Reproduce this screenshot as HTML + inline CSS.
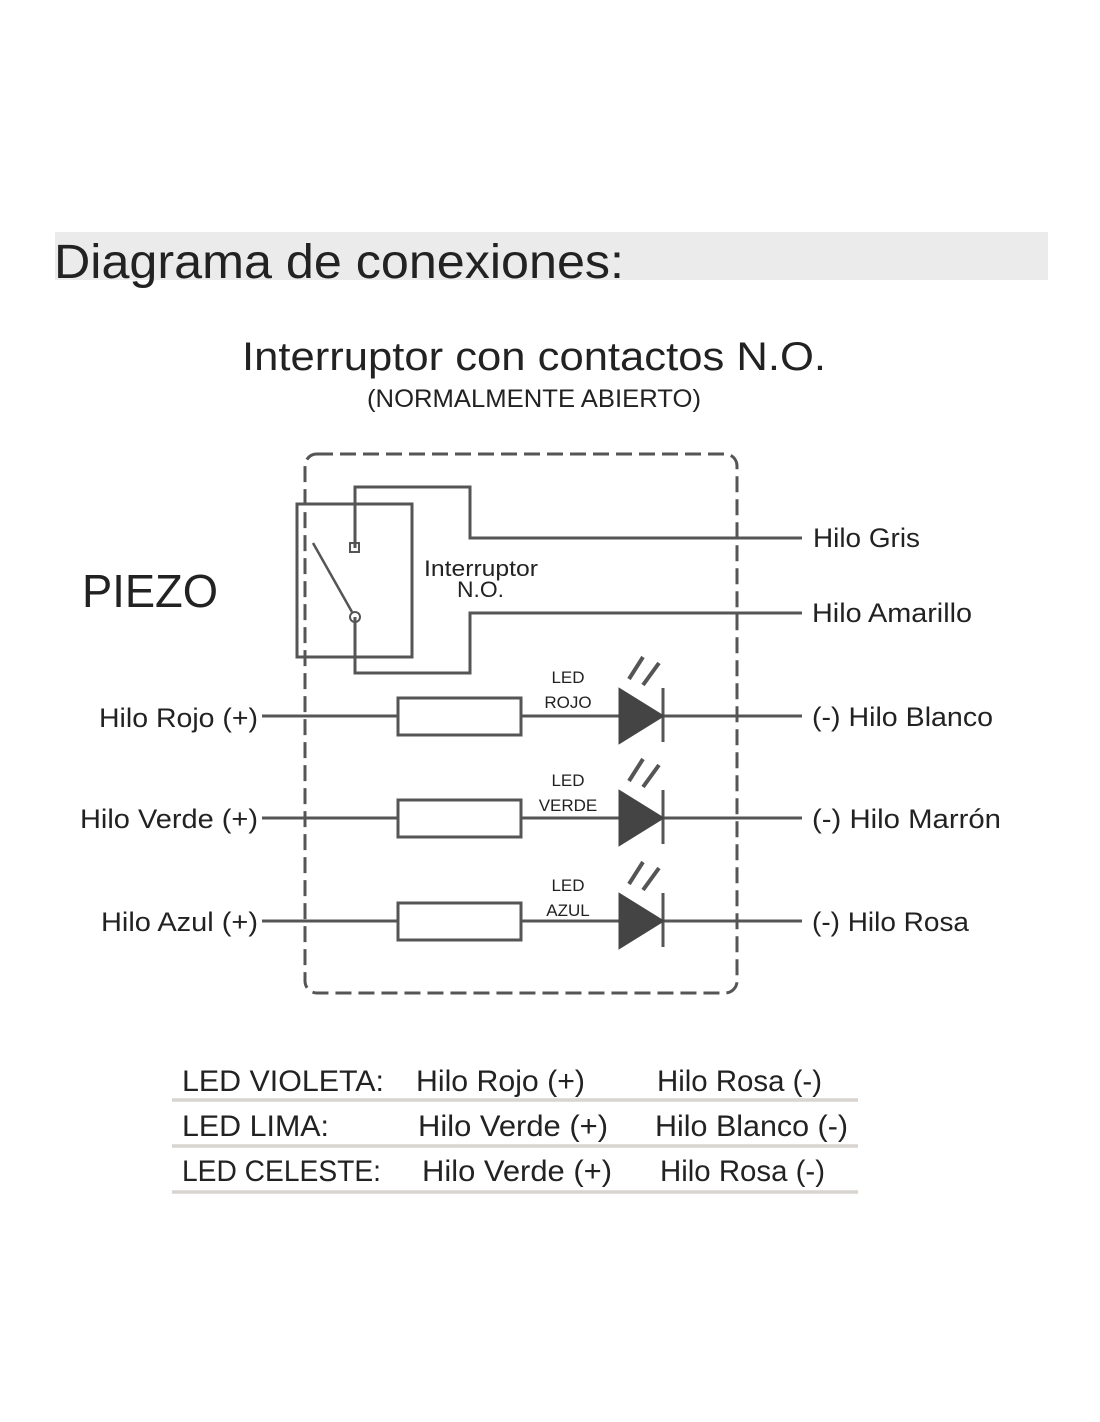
<!DOCTYPE html>
<html><head><meta charset="utf-8"><style>
html,body{margin:0;padding:0;background:#fff;}
svg{display:block;}
text{font-family:"Liberation Sans",sans-serif;fill:#222;}
</style></head><body>
<svg width="1100" height="1422" viewBox="0 0 1100 1422" xmlns="http://www.w3.org/2000/svg">
<rect x="55" y="232" width="993" height="48" fill="#ebebeb"/>
<text x="54" y="278" font-size="48" textLength="570" lengthAdjust="spacingAndGlyphs" fill="#1a1a1a">Diagrama de conexiones:</text>
<text x="242" y="370" font-size="40" textLength="584" lengthAdjust="spacingAndGlyphs">Interruptor con contactos N.O.</text>
<text x="367" y="407" font-size="25" textLength="334" lengthAdjust="spacingAndGlyphs">(NORMALMENTE ABIERTO)</text>
<text x="82" y="607" font-size="46" textLength="136" lengthAdjust="spacingAndGlyphs">PIEZO</text>

<g fill="none" stroke="#555" stroke-width="3">
<rect x="305" y="454" width="432" height="539" rx="12" stroke-dasharray="16 7"/>
<rect x="297" y="504" width="115" height="153"/>
<polyline points="355,548 355,487 470,487 470,538 802,538"/>
<polyline points="355,617 355,673 470,673 470,613 802,613"/>
<line x1="313" y1="543" x2="352" y2="612" stroke-width="2.5"/>
<rect x="350" y="543" width="9" height="9" stroke-width="2"/>
<circle cx="355" cy="617" r="5" stroke-width="2"/>
<g id="row">
<line x1="262" y1="716" x2="802" y2="716"/>
<rect x="398" y="698" width="123" height="37" fill="#fff"/>
<line x1="663" y1="688" x2="663" y2="742"/>
<line x1="629" y1="679" x2="643" y2="657" stroke-width="4"/>
<line x1="643" y1="685" x2="659" y2="663" stroke-width="4"/>
<polygon points="620,690 620,742 662,716" fill="#444" stroke="#444"/>
</g>
<use href="#row" y="102"/>
<use href="#row" y="205"/>
</g>

<text x="424" y="576" font-size="22" textLength="114" lengthAdjust="spacingAndGlyphs">Interruptor</text>
<text x="457" y="597" font-size="22" textLength="47" lengthAdjust="spacingAndGlyphs">N.O.</text>
<text x="813" y="547" font-size="27" textLength="107" lengthAdjust="spacingAndGlyphs">Hilo Gris</text>
<text x="812" y="622" font-size="27" textLength="160" lengthAdjust="spacingAndGlyphs">Hilo Amarillo</text>

<g font-size="17" text-anchor="middle">
<text x="568" y="683">LED</text><text x="568" y="708">ROJO</text>
<text x="568" y="786">LED</text><text x="568" y="811">VERDE</text>
<text x="568" y="891">LED</text><text x="568" y="916">AZUL</text>
</g>
<g font-size="27">
<text x="99" y="727" textLength="159" lengthAdjust="spacingAndGlyphs">Hilo Rojo (+)</text>
<text x="80" y="828" textLength="178" lengthAdjust="spacingAndGlyphs">Hilo Verde (+)</text>
<text x="101" y="931" textLength="157" lengthAdjust="spacingAndGlyphs">Hilo Azul (+)</text>
<text x="812" y="726" textLength="181" lengthAdjust="spacingAndGlyphs">(-) Hilo Blanco</text>
<text x="812" y="828" textLength="189" lengthAdjust="spacingAndGlyphs">(-) Hilo Marrón</text>
<text x="812" y="931" textLength="157" lengthAdjust="spacingAndGlyphs">(-) Hilo Rosa</text>
</g>

<g stroke="#d8d4d0" stroke-width="3.5">
<line x1="172" y1="1100" x2="858" y2="1100"/>
<line x1="172" y1="1146" x2="858" y2="1146"/>
<line x1="172" y1="1192" x2="858" y2="1192"/>
</g>
<g font-size="30">
<text x="182" y="1091" textLength="202" lengthAdjust="spacingAndGlyphs">LED VIOLETA:</text>
<text x="416" y="1091" textLength="169" lengthAdjust="spacingAndGlyphs">Hilo Rojo (+)</text>
<text x="657" y="1091" textLength="165" lengthAdjust="spacingAndGlyphs">Hilo Rosa (-)</text>
<text x="182" y="1136" textLength="147" lengthAdjust="spacingAndGlyphs">LED LIMA:</text>
<text x="418" y="1136" textLength="190" lengthAdjust="spacingAndGlyphs">Hilo Verde (+)</text>
<text x="655" y="1136" textLength="193" lengthAdjust="spacingAndGlyphs">Hilo Blanco (-)</text>
<text x="182" y="1181" textLength="199" lengthAdjust="spacingAndGlyphs">LED CELESTE:</text>
<text x="422" y="1181" textLength="190" lengthAdjust="spacingAndGlyphs">Hilo Verde (+)</text>
<text x="660" y="1181" textLength="165" lengthAdjust="spacingAndGlyphs">Hilo Rosa (-)</text>
</g>
</svg>
</body></html>
